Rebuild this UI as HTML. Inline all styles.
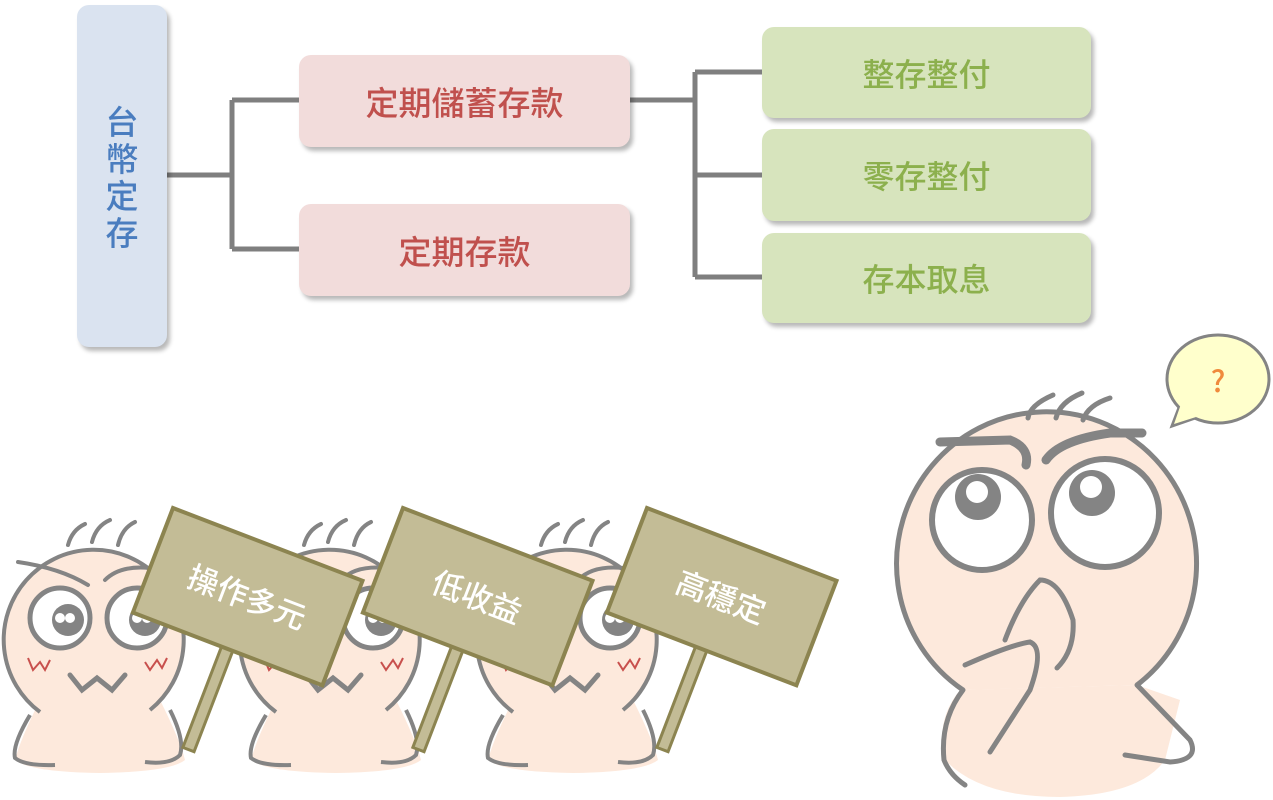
<!DOCTYPE html>
<html><head><meta charset="utf-8"><style>
html,body{margin:0;padding:0;background:#fff;}
body{width:1273px;height:800px;position:relative;overflow:hidden;font-family:"Noto Sans CJK TC","Liberation Sans",sans-serif;}
.b{position:absolute;border-radius:12px;display:flex;align-items:center;justify-content:center;box-shadow:3px 4px 4px rgba(0,0,0,0.28);font-weight:500;}
.p{background:#f2dcdb;color:#c0504d;font-size:33px;}
.g{background:#d7e4bd;color:#8cb04d;font-size:32px;}
text{font-family:"Noto Sans CJK TC","Liberation Sans",sans-serif;font-weight:500;}
</style></head><body>
<svg width="1273" height="800" style="position:absolute;left:0;top:0">
<g stroke="#7f7f7f" stroke-width="5" fill="none">
<path d="M167 175H232M232 100V249M232 100H300M232 249H300"/>
<path d="M630 100H695M695 72V277M695 72H762M695 175H762M695 277H762"/>
</g>
</svg>
<div class="b" style="left:77px;top:5px;width:90px;height:342px;background:#dae3f0;color:#4a7dbf;font-size:33px;line-height:37px;text-align:center;flex-direction:column;">台<br>幣<br>定<br>存</div>
<div class="b p" style="left:299px;top:55px;width:331px;height:92px;">定期儲蓄存款</div>
<div class="b p" style="left:299px;top:204px;width:331px;height:92px;">定期存款</div>
<div class="b g" style="left:762px;top:27px;width:329px;height:91px;">整存整付</div>
<div class="b g" style="left:762px;top:129px;width:329px;height:92px;">零存整付</div>
<div class="b g" style="left:762px;top:233px;width:329px;height:90px;">存本取息</div>

<svg width="1273" height="800" style="position:absolute;left:0;top:0">
<defs>
<g id="kid">
 <path d="M40 700 Q20 740 15 760 Q30 772 100 773 Q170 772 185 760 Q180 740 160 700 Z" fill="#fde9dc"/>
 <path d="M40 712 A90 90 0 1 1 150 710" fill="#fde9dc" stroke="#848484" stroke-width="4"/>
 <path d="M30 715 Q12 745 15 758 Q25 766 55 765" stroke="#848484" stroke-width="4" fill="none"/>
 <path d="M170 710 Q185 740 180 755 Q170 765 145 762" stroke="#848484" stroke-width="4" fill="none"/>
 <path d="M68 545 Q72 530 85 524 M92 542 Q96 526 110 520 M118 545 Q122 528 135 522" stroke="#848484" stroke-width="4" fill="none" stroke-linecap="round"/>
 <path d="M18 562 Q60 568 88 585 M105 580 Q120 565 150 568" stroke="#848484" stroke-width="4" fill="none" stroke-linecap="round"/>
 <circle cx="60" cy="618" r="30" fill="#fff" stroke="#848484" stroke-width="5"/>
 <circle cx="137" cy="618" r="30" fill="#fff" stroke="#848484" stroke-width="5"/>
 <circle cx="68" cy="620" r="16" fill="#848484"/><circle cx="60" cy="618" r="5" fill="#fff"/><circle cx="70" cy="618" r="5" fill="#fff"/>
 <circle cx="145" cy="620" r="16" fill="#848484"/><circle cx="137" cy="618" r="5" fill="#fff"/><circle cx="147" cy="618" r="5" fill="#fff"/>
 <path d="M28 658 L33 670 L40 662 L45 670 L50 660 M145 662 L150 670 L157 660 L162 668 L167 658" stroke="#c8504d" stroke-width="2" fill="none"/>
 <path d="M70 675 L82 690 L97 678 L112 690 L125 675" stroke="#848484" stroke-width="5" fill="none" stroke-linecap="round"/>
</g>
<g id="sign">
 <rect x="95" y="100" width="12" height="120" fill="#c3bc96" stroke="#8c8450" stroke-width="3"/>
 <rect x="0" y="0" width="203" height="112" fill="#c3bc96" stroke="#8c8450" stroke-width="4"/>
</g>
</defs>
<use href="#kid"/>
<use href="#kid" transform="translate(236,0)"/>
<use href="#kid" transform="translate(473,0)"/>
<g transform="translate(173,508) rotate(21)"><use href="#sign"/><text x="101" y="68" text-anchor="middle" fill="#fff" font-size="31">操作多元</text></g>
<g transform="translate(403,508) rotate(21)"><use href="#sign"/><text x="101" y="68" text-anchor="middle" fill="#fff" font-size="31">低收益</text></g>
<g transform="translate(647,508) rotate(21)"><use href="#sign"/><text x="101" y="68" text-anchor="middle" fill="#fff" font-size="31">高穩定</text></g>

<path d="M960 690 Q935 720 945 760 Q980 797 1060 797 Q1140 795 1165 760 L1180 700 L1137 685 Z" fill="#fde9dc"/>
<path d="M963 690 A150 152 0 1 1 1137 685" fill="#fde9dc" stroke="#848484" stroke-width="5"/>
<path d="M963 690 Q940 720 944 760 Q950 775 965 785" stroke="#848484" stroke-width="5" fill="none" stroke-linecap="round"/>
<path d="M1137 685 L1190 740 Q1200 760 1170 762 L1125 755" stroke="#848484" stroke-width="5" fill="none" stroke-linecap="round"/>
<path d="M1028 418 Q1030 405 1053 395 M1056 418 Q1060 402 1082 393 M1083 420 Q1088 405 1110 398" stroke="#848484" stroke-width="5" fill="none" stroke-linecap="round"/>
<path d="M940 442 L1010 440 Q1030 448 1026 465 M1046 460 Q1060 440 1110 433 L1142 433" stroke="#848484" stroke-width="9" fill="none" stroke-linecap="round"/>
<circle cx="982" cy="520" r="50" fill="#fff" stroke="#848484" stroke-width="6"/>
<circle cx="1105" cy="513" r="54" fill="#fff" stroke="#848484" stroke-width="6"/>
<circle cx="978" cy="497" r="23" fill="#848484"/><circle cx="977" cy="492" r="11" fill="#fff"/>
<circle cx="1092" cy="493" r="23" fill="#848484"/><circle cx="1091" cy="487" r="11" fill="#fff"/>
<path d="M1057 668 Q1075 650 1073 620 Q1060 580 1040 580 Q1020 600 1005 640" stroke="#848484" stroke-width="5" fill="none" stroke-linecap="round"/>
<path d="M965 665 Q1010 645 1030 642 Q1045 648 1030 690 L990 752" stroke="#848484" stroke-width="5" fill="none" stroke-linecap="round"/>
<path d="M1180 405 L1172 426 L1195 418 Z" fill="#ffffcc" stroke="#848484" stroke-width="3"/>
<ellipse cx="1218" cy="379" rx="51" ry="44" fill="#ffffcc" stroke="#848484" stroke-width="3"/>
<path d="M1181 404 L1174 424 L1196 417" fill="#ffffcc" stroke="none"/>
<text x="1218" y="392" text-anchor="middle" fill="#f08a3c" font-size="30">?</text>
</svg>
</body></html>
